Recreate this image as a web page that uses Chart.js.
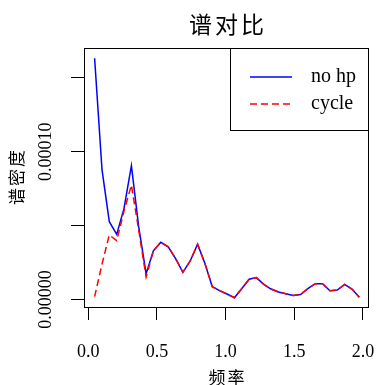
<!DOCTYPE html>
<html>
<head>
<meta charset="utf-8">
<script src="https://cdn.jsdelivr.net/npm/chart.js@4/dist/chart.umd.min.js"></script>
<style>
  html, body { margin: 0; padding: 0; background: #fff; }
  canvas { display: block; }
</style>
</head>
<body>
<canvas id="specChart" width="376" height="385"></canvas>
<script>
// frequencies and spectral density
const freq = [0.046, 0.100, 0.153, 0.207, 0.260, 0.314, 0.367, 0.421, 0.474, 0.528,
  0.582, 0.635, 0.689, 0.742, 0.796, 0.849, 0.903, 0.956, 1.010, 1.064,
  1.117, 1.171, 1.224, 1.278, 1.331, 1.385, 1.438, 1.492, 1.546, 1.599,
  1.653, 1.706, 1.760, 1.813, 1.867, 1.920, 1.974];

const noHp = [1.633e-4, 8.77e-5, 5.27e-5, 4.41e-5, 6.17e-5, 9.06e-5, 4.93e-5, 1.75e-5, 3.30e-5, 3.87e-5,
  3.57e-5, 2.79e-5, 1.84e-5, 2.61e-5, 3.74e-5, 2.45e-5, 8.7e-6, 6.0e-6, 3.7e-6, 1.2e-6,
  7.3e-6, 1.37e-5, 1.48e-5, 1.03e-5, 7.1e-6, 5.1e-6, 3.9e-6, 2.7e-6, 3.4e-6, 7.3e-6,
  1.07e-5, 1.07e-5, 5.9e-6, 6.4e-6, 1.02e-5, 7.1e-6, 1.5e-6];

const cycle = [1.9e-6, 2.40e-5, 4.37e-5, 3.98e-5, 5.99e-5, 7.75e-5, 4.71e-5, 1.52e-5, 3.30e-5, 3.87e-5,
  3.57e-5, 2.79e-5, 1.84e-5, 2.61e-5, 3.74e-5, 2.45e-5, 8.7e-6, 6.0e-6, 3.7e-6, 1.2e-6,
  7.3e-6, 1.37e-5, 1.48e-5, 1.03e-5, 7.1e-6, 5.1e-6, 3.9e-6, 2.7e-6, 3.4e-6, 7.3e-6,
  1.07e-5, 1.07e-5, 5.9e-6, 6.4e-6, 1.02e-5, 7.1e-6, 1.5e-6];

const seriesNames = ['no hp', 'cycle'];
const xTicks = [0, 0.5, 1.0, 1.5, 2.0];
const yTicks = [0, 0.00005, 0.0001, 0.00015];
const yLabelValues = [0, 0.0001];
const yLabelTexts = ['0.00000', '0.00010'];

const chartTitle = '谱对比';
const xTitle = '频率';
const yTitle = '谱密度';

const serif = "'Liberation Serif', 'DejaVu Serif', serif";
const cjk = "'Noto Sans CJK SC', sans-serif";

const toPoints = (ys) => ys.map((y, i) => ({ x: freq[i], y: y }));

// spaced text, centred (letterSpacing also pads after the last glyph)
function spacedText(ctx, text, x, y, gap) {
  ctx.letterSpacing = gap + 'px';
  ctx.fillText(text, x + gap / 2, y);
  ctx.letterSpacing = '0px';
}

// titles, y labels, box and legend drawn R style
const rDecor = {
  id: 'rDecor',
  afterDraw(chart) {
    const { ctx, chartArea: a, scales } = chart;
    const midX = (a.left + a.right) / 2;
    const midY = (a.top + a.bottom) / 2;
    ctx.save();
    ctx.strokeStyle = '#000';
    ctx.lineWidth = 1;
    ctx.strokeRect(a.left + 0.5, a.top + 0.5, a.right - a.left - 1, a.bottom - a.top);

    ctx.fillStyle = '#000';
    ctx.textAlign = 'center';
    ctx.textBaseline = 'middle';
    ctx.font = '23px ' + cjk;
    spacedText(ctx, chartTitle, midX, 24, 3);

    ctx.font = '17px ' + cjk;
    spacedText(ctx, xTitle, midX, 378, 2);
    ctx.save();
    ctx.translate(17, midY);
    ctx.rotate(-Math.PI / 2);
    spacedText(ctx, yTitle, 0, 0, 2);
    ctx.restore();

    ctx.font = '18px ' + serif;
    yLabelValues.forEach((v, i) => {
      const py = scales.y.getPixelForValue(v);
      ctx.save();
      ctx.translate(46, py);
      ctx.rotate(-Math.PI / 2);
      ctx.fillText(yLabelTexts[i], 0, 0);
      ctx.restore();
    });

    // legend
    const lx = 230, ly = a.top, lw = a.right - lx, lh = 82;
    ctx.strokeRect(lx + 0.5, ly + 0.5, lw - 1, lh);
    ctx.font = '20px ' + serif;
    ctx.textAlign = 'left';
    chart.data.datasets.forEach((ds, i) => {
      const yy = 77 + i * 27;
      ctx.strokeStyle = ds.borderColor;
      ctx.lineWidth = ds.borderWidth;
      ctx.setLineDash(ds.borderDash || []);
      ctx.beginPath();
      ctx.moveTo(250, yy);
      ctx.lineTo(292, yy);
      ctx.stroke();
      ctx.setLineDash([]);
      ctx.fillText(ds.label, 311, yy);
    });
    ctx.restore();
  }
};

new Chart(document.getElementById('specChart'), {
  type: 'line',
  data: {
    datasets: [
      {
        label: seriesNames[0],
        data: toPoints(noHp),
        borderColor: '#0000FF',
        borderWidth: 1.5,
        pointRadius: 0,
        tension: 0,
        fill: false,
        order: 2
      },
      {
        label: seriesNames[1],
        data: toPoints(cycle),
        borderColor: '#FF0000',
        borderWidth: 1.5,
        borderDash: [7, 4],
        pointRadius: 0,
        tension: 0,
        fill: false,
        order: 1
      }
    ]
  },
  options: {
    responsive: false,
    animation: false,
    devicePixelRatio: 1,
    layout: { padding: { top: 48, right: 7, left: 0, bottom: 0 } },
    plugins: { legend: { display: false }, tooltip: { enabled: false }, title: { display: false } },
    scales: {
      x: {
        type: 'linear',
        min: -0.0313,
        max: 2.0444,
        afterFit: (s) => {
          s.height = 78;
          s.paddingLeft = 0;
          s.paddingRight = 0;
        },
        afterBuildTicks: (s) => { s.ticks = xTicks.map(v => ({ value: v })); },
        grid: { drawOnChartArea: false, drawTicks: true, tickLength: 13, color: '#000', lineWidth: 1 },
        border: { display: false },
        ticks: {
          color: '#000',
          font: { family: serif, size: 18 },
          padding: 21,
          maxRotation: 0,
          autoSkip: false,
          callback: (v) => Number(v).toFixed(1)
        }
      },
      y: {
        type: 'linear',
        min: -5.08e-6,
        max: 1.7027e-4,
        afterFit: (s) => {
          s.width = 84;
          s.paddingTop = 0;
          s.paddingBottom = 0;
        },
        afterBuildTicks: (s) => { s.ticks = yTicks.map(v => ({ value: v })); },
        grid: { drawOnChartArea: false, drawTicks: true, tickLength: 13, color: '#000', lineWidth: 1 },
        border: { display: false },
        ticks: { display: false }
      }
    }
  },
  plugins: [rDecor]
});
</script>
</body>
</html>
